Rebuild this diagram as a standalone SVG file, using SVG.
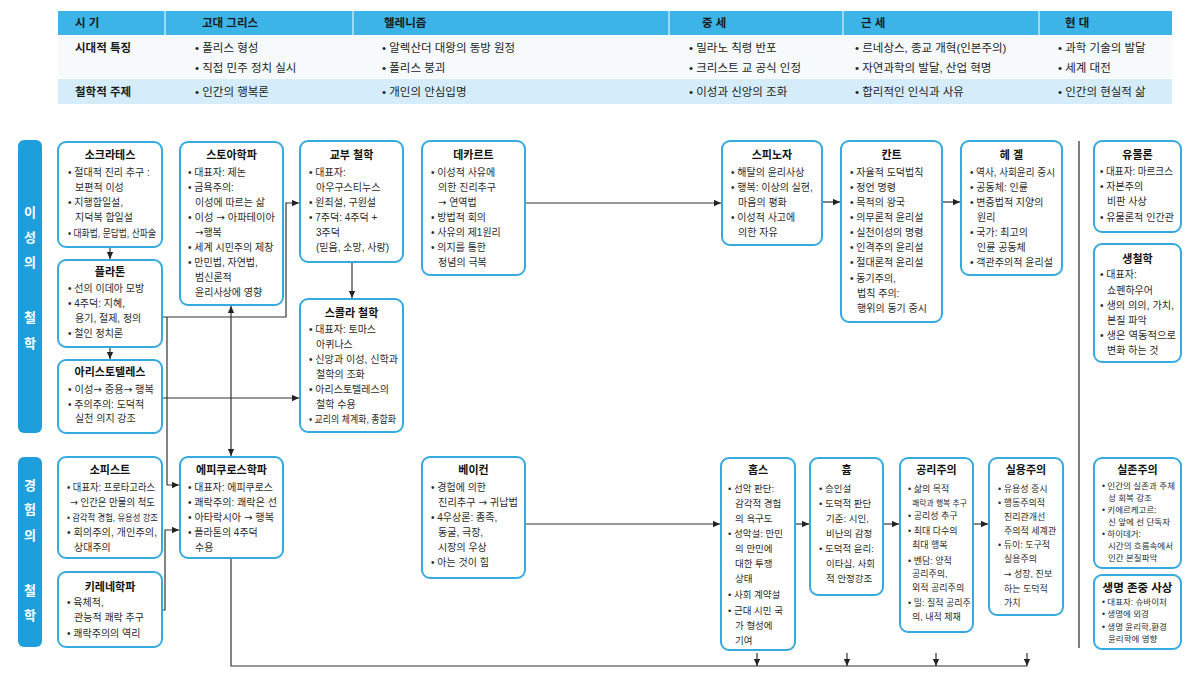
<svg xmlns="http://www.w3.org/2000/svg" width="1191" height="688" viewBox="0 0 1191 688">
<defs>
<marker id="ah" viewBox="0 0 10 10" refX="10" refY="5" markerWidth="8" markerHeight="7" markerUnits="userSpaceOnUse" orient="auto-start-reverse"><path d="M0,0.5 L10,5 L0,9.5 z" fill="#222"/></marker>
</defs>
<style>
text { font-family: "Liberation Sans", "Noto Sans CJK KR", sans-serif; fill:#2b2b2b; }
.ar { font-family: "DejaVu Sans", sans-serif; }
.nb { fill:#fff; stroke:#35aadf; stroke-width:2; }
.t { font-size:11px; font-weight:bold; text-anchor:middle; fill:#111; }
.b { font-size:10px; }
.s { font-size:9.5px; }
.s9 { font-size:9px; }
.xs { font-size:8.5px; }
.c { fill:none; stroke:#333; stroke-width:1.2; }
.th { font-size:11.5px; font-weight:bold; fill:#1a1a1a; }
.td { font-size:11.5px; fill:#222; }
.side { fill:#1e9fdc; }
.sl { font-size:13px; font-weight:bold; fill:#fff; text-anchor:middle; }
</style>
<rect width="1191" height="688" fill="#fff"/>

<g id="table">
<rect x="58" y="11" width="1114" height="24" fill="#3cb4e8"/>
<rect x="58" y="36" width="1114" height="42" fill="#f6fafd"/>
<rect x="58" y="79" width="1114" height="25" fill="#d5edfa"/>
<g stroke="#fff" stroke-width="1">
<line x1="165" y1="11" x2="165" y2="35"/><line x1="353" y1="11" x2="353" y2="35"/><line x1="669" y1="11" x2="669" y2="35"/><line x1="843" y1="11" x2="843" y2="35"/><line x1="1039" y1="11" x2="1039" y2="35"/>
</g>
<text class="th" x="75" y="27">시 기</text>
<text class="th" x="202" y="27">고대 그리스</text>
<text class="th" x="384" y="27">헬레니즘</text>
<text class="th" x="702" y="27">중 세</text>
<text class="th" x="861" y="27">근 세</text>
<text class="th" x="1065" y="27">현 대</text>
<text class="th" x="75" y="52">시대적 특징</text>
<text class="td" x="195" y="52">• 폴리스 형성</text>
<text class="td" x="195" y="72">• 직접 민주 정치 실시</text>
<text class="td" x="382" y="52">• 알렉산더 대왕의 동방 원정</text>
<text class="td" x="382" y="72">• 폴리스 붕괴</text>
<text class="td" x="689" y="52">• 밀라노 칙령 반포</text>
<text class="td" x="689" y="72">• 크리스트 교 공식 인정</text>
<text class="td" x="855" y="52">• 르네상스, 종교 개혁(인본주의)</text>
<text class="td" x="855" y="72">• 자연과학의 발달, 산업 혁명</text>
<text class="td" x="1058" y="52">• 과학 기술의 발달</text>
<text class="td" x="1058" y="72">• 세계 대전</text>
<text class="th" x="75" y="96">철학적 주제</text>
<text class="td" x="195" y="96">• 인간의 행복론</text>
<text class="td" x="382" y="96">• 개인의 안심입명</text>
<text class="td" x="689" y="96">• 이성과 신앙의 조화</text>
<text class="td" x="855" y="96">• 합리적인 인식과 사유</text>
<text class="td" x="1058" y="96">• 인간의 현실적 삶</text>
</g>

<g id="label-reason">
<rect class="side" x="18" y="140" width="24" height="293" rx="6"/>
<text class="sl" x="30" y="217">이</text>
<text class="sl" x="30" y="242">성</text>
<text class="sl" x="30" y="267">의</text>
<text class="sl" x="30" y="322">철</text>
<text class="sl" x="30" y="348">학</text>
</g>
<g id="label-experience">
<rect class="side" x="18" y="457" width="24" height="190" rx="6"/>
<text class="sl" x="30" y="490">경</text>
<text class="sl" x="30" y="514">험</text>
<text class="sl" x="30" y="540">의</text>
<text class="sl" x="30" y="595">철</text>
<text class="sl" x="30" y="620">학</text>
</g>

<g id="connectors">
<line class="c" x1="110" y1="247" x2="110" y2="259" marker-end="url(#ah)"/>
<line class="c" x1="110" y1="347" x2="110" y2="359" marker-end="url(#ah)"/>
<path class="c" d="M163,317 H286 V203 H299" marker-end="url(#ah)"/>
<path class="c" d="M167,317 V485 H179" marker-end="url(#ah)"/>
<line class="c" x1="162" y1="398" x2="299" y2="398" marker-end="url(#ah)"/>
<line class="c" x1="231" y1="306" x2="231" y2="456" marker-start="url(#ah)" marker-end="url(#ah)"/>
<path class="c" d="M162,610 H165 V530 H179" marker-end="url(#ah)"/>
<line class="c" x1="352" y1="262" x2="352" y2="298" marker-end="url(#ah)"/>
<line class="c" x1="525" y1="203" x2="721" y2="203" marker-end="url(#ah)"/>
<line class="c" x1="822" y1="202" x2="840" y2="202" marker-end="url(#ah)"/>
<line class="c" x1="942" y1="202" x2="960" y2="202" marker-end="url(#ah)"/>
<line class="c" x1="525" y1="524" x2="720" y2="524" marker-end="url(#ah)"/>
<line class="c" x1="795" y1="524" x2="809" y2="524" marker-end="url(#ah)"/>
<line class="c" x1="883" y1="524" x2="899" y2="524" marker-end="url(#ah)"/>
<line class="c" x1="973" y1="524" x2="988" y2="524" marker-end="url(#ah)"/>
<path class="c" d="M231,558 V666 H1027"/>
<line class="c" x1="757" y1="653" x2="757" y2="666" marker-end="url(#ah)"/>
<line class="c" x1="847" y1="653" x2="847" y2="666" marker-end="url(#ah)"/>
<line class="c" x1="936" y1="653" x2="936" y2="666" marker-end="url(#ah)"/>
<line class="c" x1="1027" y1="653" x2="1027" y2="666" marker-end="url(#ah)"/>
<line x1="1079" y1="141" x2="1079" y2="648" stroke="#555" stroke-width="1.5"/>
</g>

<g id="socrates">
<rect class="nb" x="58" y="142" width="104" height="105" rx="8"/>
<text class="t" x="110" y="159">소크라테스</text>
<text class="b" x="68" y="176">• 절대적 진리 추구 :</text>
<text class="b" x="75" y="191">보편적 이성</text>
<text class="b" x="68" y="206">• 지행합일설,</text>
<text class="b" x="75" y="221">지덕복 합일설</text>
<text class="b" x="68" y="237" textLength="88" lengthAdjust="spacingAndGlyphs">• 대화법, 문답법, 산파술</text>
</g>

<g id="plato">
<rect class="nb" x="58" y="260" width="104" height="87" rx="8"/>
<text class="t" x="110" y="276">플라톤</text>
<text class="b" x="68" y="292">• 선의 이데아 모방</text>
<text class="b" x="68" y="307">• 4주덕: 지혜,</text>
<text class="b" x="75" y="322">용기, 절제, 정의</text>
<text class="b" x="68" y="337">• 철인 정치론</text>
</g>

<g id="aristotle">
<rect class="nb" x="58" y="360" width="104" height="73" rx="8"/>
<text class="t" x="110" y="376">아리스토텔레스</text>
<text class="b" x="68" y="393" textLength="86" lengthAdjust="spacingAndGlyphs">• 이성<tspan class="ar">→</tspan> 중용<tspan class="ar">→</tspan> 행복</text>
<text class="b" x="68" y="408">• 주의주의: 도덕적</text>
<text class="b" x="75" y="422">실천 의지  강조</text>
</g>

<g id="stoic">
<rect class="nb" x="180" y="142" width="103" height="163" rx="8"/>
<text class="t" x="231.5" y="159">스토아학파</text>
<text class="b" x="188" y="176">• 대표자: 제논</text>
<text class="b" x="188" y="191">• 금욕주의:</text>
<text class="b" x="195" y="206">이성에 따르는 삶</text>
<text class="b" x="188" y="221" textLength="87" lengthAdjust="spacingAndGlyphs">• 이성 <tspan class="ar">→</tspan> 아파테이아</text>
<text class="b" x="195" y="236"><tspan class="ar">→</tspan>행복</text>
<text class="b" x="188" y="251">• 세계 시민주의 제창</text>
<text class="b" x="188" y="266">• 만민법, 자연법,</text>
<text class="b" x="195" y="281">범신론적</text>
<text class="b" x="195" y="296">윤리사상에  영향</text>
</g>

<g id="patristic">
<rect class="nb" x="300" y="141" width="103" height="121" rx="8"/>
<text class="t" x="351.5" y="159">교부 철학</text>
<text class="b" x="309" y="176">• 대표자:</text>
<text class="b" x="316" y="191">아우구스티누스</text>
<text class="b" x="309" y="206">• 원죄설, 구원설</text>
<text class="b" x="309" y="221">• 7주덕: 4주덕 +</text>
<text class="b" x="316" y="236">3주덕</text>
<text class="b" x="316" y="251">(믿음, 소망, 사랑)</text>
</g>

<g id="scholastic">
<rect class="nb" x="300" y="299" width="103" height="133" rx="8"/>
<text class="t" x="351.5" y="317">스콜라 철학</text>
<text class="b" x="309" y="333">• 대표자: 토마스</text>
<text class="b" x="316" y="348">아퀴나스</text>
<text class="b" x="309" y="363" textLength="89" lengthAdjust="spacingAndGlyphs">• 신앙과 이성, 신학과</text>
<text class="b" x="316" y="378">철학의 조화</text>
<text class="b" x="309" y="393">• 아리스토텔레스의</text>
<text class="b" x="316" y="408">철학 수용</text>
<text class="b" x="309" y="423" textLength="87" lengthAdjust="spacingAndGlyphs">• 교리의 체계화, 종합화</text>
</g>

<g id="descartes">
<rect class="nb" x="422" y="141" width="103" height="134" rx="8"/>
<text class="t" x="473.5" y="159">데카르트</text>
<text class="b" x="431" y="176">• 이성적 사유에</text>
<text class="b" x="438" y="191">의한 진리추구</text>
<text class="b" x="438" y="206"><tspan class="ar">→</tspan> 연역법</text>
<text class="b" x="431" y="221">• 방법적 회의</text>
<text class="b" x="431" y="236">• 사유의 제1원리</text>
<text class="b" x="431" y="251">• 의지를 통한</text>
<text class="b" x="438" y="266">정념의 극복</text>
</g>

<g id="spinoza">
<rect class="nb" x="722" y="141" width="100" height="104" rx="8"/>
<text class="t" x="772" y="159">스피노자</text>
<text class="b" x="731" y="176">• 해탈의 윤리사상</text>
<text class="b" x="731" y="191">• 행복: 이상의 실현,</text>
<text class="b" x="738" y="206">마음의 평화</text>
<text class="b" x="731" y="221">• 이성적 사고에</text>
<text class="b" x="738" y="236">의한 자유</text>
</g>

<g id="kant">
<rect class="nb" x="841" y="141" width="101" height="181" rx="8"/>
<text class="t" x="891.5" y="159">칸트</text>
<text class="b" x="850" y="176">• 자율적 도덕법칙</text>
<text class="b" x="850" y="191">• 정언 명령</text>
<text class="b" x="850" y="206">• 목적의 왕국</text>
<text class="b" x="850" y="221">• 의무론적 윤리설</text>
<text class="b" x="850" y="236">• 실천이성의 명령</text>
<text class="b" x="850" y="251">• 인격주의 윤리설</text>
<text class="b" x="850" y="266">• 절대론적 윤리설</text>
<text class="b" x="850" y="282">• 동기주의,</text>
<text class="b" x="857" y="297">법칙 주의:</text>
<text class="b" x="857" y="312">행위의 동기 중시</text>
</g>

<g id="hegel">
<rect class="nb" x="961" y="141" width="101" height="134" rx="8"/>
<text class="t" x="1011.5" y="159">헤 겔</text>
<text class="b" x="970" y="176" textLength="85" lengthAdjust="spacingAndGlyphs">• 역사, 사회윤리 중시</text>
<text class="b" x="970" y="191">• 공동체: 인륜</text>
<text class="b" x="970" y="206">• 변증법적 지양의</text>
<text class="b" x="977" y="221">원리</text>
<text class="b" x="970" y="236">• 국가: 최고의</text>
<text class="b" x="977" y="251">인륜 공동체</text>
<text class="b" x="970" y="266" textLength="83" lengthAdjust="spacingAndGlyphs">• 객관주의적 윤리설</text>
</g>

<g id="materialism">
<rect class="nb" x="1094" y="141" width="87" height="91" rx="8"/>
<text class="t" x="1137.5" y="159">유물론</text>
<text class="b" x="1100" y="175" textLength="73" lengthAdjust="spacingAndGlyphs">• 대표자: 마르크스</text>
<text class="b" x="1100" y="190">• 자본주의</text>
<text class="b" x="1107" y="205">비판 사상</text>
<text class="b" x="1100" y="221" textLength="74" lengthAdjust="spacingAndGlyphs">• 유물론적 인간관</text>
</g>

<g id="lifephilosophy">
<rect class="nb" x="1094" y="244" width="87" height="118" rx="8"/>
<text class="t" x="1137.5" y="263">생철학</text>
<text class="b" x="1100" y="278">• 대표자:</text>
<text class="b" x="1107" y="294">쇼펜하우어</text>
<text class="b" x="1100" y="309" textLength="74" lengthAdjust="spacingAndGlyphs">• 생의 의의, 가치,</text>
<text class="b" x="1107" y="324">본질 파악</text>
<text class="b" x="1100" y="339" textLength="76" lengthAdjust="spacingAndGlyphs">• 생은 역동적으로</text>
<text class="b" x="1107" y="354">변화 하는 것</text>
</g>

<g id="sophist">
<rect class="nb" x="58" y="457" width="104" height="101" rx="8"/>
<text class="t" x="110" y="474">소피스트</text>
<text class="b" x="67" y="491" textLength="88" lengthAdjust="spacingAndGlyphs">• 대표자: 프로타고라스</text>
<text class="b" x="70" y="506" textLength="85" lengthAdjust="spacingAndGlyphs"><tspan class="ar">→</tspan> 인간은 만물의 척도</text>
<text class="s" x="67" y="521" textLength="91" lengthAdjust="spacingAndGlyphs">• 감각적 경험, 유용성 강조</text>
<text class="b" x="67" y="536" textLength="90" lengthAdjust="spacingAndGlyphs">• 회의주의, 개인주의,</text>
<text class="b" x="74" y="551">상대주의</text>
</g>

<g id="cyrenaic">
<rect class="nb" x="58" y="572" width="104" height="75" rx="8"/>
<text class="t" x="110" y="591">키레네학파</text>
<text class="b" x="67" y="606">• 육체적,</text>
<text class="b" x="74" y="621">관능적 쾌락 추구</text>
<text class="b" x="67" y="637">• 쾌락주의의 역리</text>
</g>

<g id="epicurean">
<rect class="nb" x="180" y="457" width="103" height="101" rx="8"/>
<text class="t" x="231.5" y="474">에피쿠로스학파</text>
<text class="b" x="188" y="491" textLength="85" lengthAdjust="spacingAndGlyphs">• 대표자: 에피쿠로스</text>
<text class="b" x="188" y="506" textLength="89" lengthAdjust="spacingAndGlyphs">• 쾌락주의: 쾌락은 선</text>
<text class="b" x="188" y="521" textLength="86" lengthAdjust="spacingAndGlyphs">• 아타락시아 <tspan class="ar">→</tspan> 행복</text>
<text class="b" x="188" y="536">• 플라톤의 4주덕</text>
<text class="b" x="195" y="551">수용</text>
</g>

<g id="bacon">
<rect class="nb" x="422" y="457" width="103" height="121" rx="8"/>
<text class="t" x="473.5" y="474">베이컨</text>
<text class="b" x="431" y="491">• 경험에 의한</text>
<text class="b" x="438" y="506" textLength="80" lengthAdjust="spacingAndGlyphs">진리추구 <tspan class="ar">→</tspan> 귀납법</text>
<text class="b" x="431" y="521">• 4우상론: 종족,</text>
<text class="b" x="438" y="536">동굴, 극장,</text>
<text class="b" x="438" y="551">시장의 우상</text>
<text class="b" x="431" y="566">• 아는 것이 힘</text>
</g>

<g id="hobbes">
<rect class="nb" x="721" y="458" width="74" height="192" rx="8"/>
<text class="t" x="758" y="474">홉스</text>
<text class="s" x="728" y="492">• 선악 판단:</text>
<text class="s" x="735" y="507">감각적 경험</text>
<text class="s" x="735" y="522">의 욕구도</text>
<text class="s" x="728" y="537">• 성악설: 만민</text>
<text class="s" x="735" y="552">의 만민에</text>
<text class="s" x="735" y="567">대한 투쟁</text>
<text class="s" x="735" y="582">상태</text>
<text class="s" x="728" y="598">• 사회 계약설</text>
<text class="s" x="728" y="614">• 근대 시민 국</text>
<text class="s" x="735" y="629">가 형성에</text>
<text class="s" x="735" y="644">기여</text>
</g>

<g id="hume">
<rect class="nb" x="810" y="458" width="73" height="137" rx="8"/>
<text class="t" x="846.5" y="474">흄</text>
<text class="s" x="819" y="492">• 승인설</text>
<text class="s" x="819" y="507">• 도덕적 판단</text>
<text class="s" x="826" y="522">기준: 시인,</text>
<text class="s" x="826" y="537">비난의 감정</text>
<text class="s" x="819" y="552">• 도덕적 윤리:</text>
<text class="s" x="826" y="567">이타심, 사회</text>
<text class="s" x="826" y="582">적 안정강조</text>
</g>

<g id="utilitarianism">
<rect class="nb" x="900" y="458" width="73" height="174" rx="8"/>
<text class="t" x="936.5" y="474">공리주의</text>
<text class="s9" x="908" y="492">• 삶의 목적</text>
<text x="912" y="506" font-size="8" textLength="55" lengthAdjust="spacingAndGlyphs">쾌락과 행복 추구</text>
<text class="s9" x="908" y="519">• 공리성 추구</text>
<text class="s9" x="908" y="534">• 최대 다수의</text>
<text class="s9" x="912" y="548">최대 행복</text>
<text class="s9" x="908" y="564">• 벤담: 양적</text>
<text class="s9" x="912" y="577">공리주의,</text>
<text class="s9" x="912" y="591">외적 공리주의</text>
<text class="s9" x="908" y="606">• 밀: 질적 공리주</text>
<text class="s9" x="912" y="620">의, 내적 제재</text>
</g>

<g id="pragmatism">
<rect class="nb" x="989" y="458" width="74" height="157" rx="8"/>
<text class="t" x="1026" y="474">실용주의</text>
<text class="s9" x="998" y="492">• 유용성 중시</text>
<text class="s9" x="998" y="506">• 행동주의적</text>
<text class="s9" x="1004" y="520">진리관개선</text>
<text class="s9" x="1004" y="534">주의적 세계관</text>
<text class="s9" x="998" y="548">• 듀이: 도구적</text>
<text class="s9" x="1004" y="562">실용주의</text>
<text class="s9" x="1004" y="577"><tspan class="ar">→</tspan> 성장, 진보</text>
<text class="s9" x="1004" y="592">하는 도덕적</text>
<text class="s9" x="1004" y="606">가치</text>
</g>

<g id="existentialism">
<rect class="nb" x="1094" y="458" width="87" height="110" rx="8"/>
<text class="t" x="1137.5" y="474">실존주의</text>
<text class="xs" x="1102" y="489" textLength="73" lengthAdjust="spacingAndGlyphs">• 인간의 실존과 주체</text>
<text class="xs" x="1108" y="501">성  회복 강조</text>
<text class="xs" x="1102" y="513">• 키에르케고르:</text>
<text class="xs" x="1108" y="525" textLength="62" lengthAdjust="spacingAndGlyphs">신 앞에 선 단독자</text>
<text class="xs" x="1102" y="537">• 하이데거:</text>
<text class="xs" x="1108" y="549" textLength="65" lengthAdjust="spacingAndGlyphs">시간의 흐름속에서</text>
<text class="xs" x="1108" y="561">인간 본질파악</text>
</g>

<g id="bioethics">
<rect class="nb" x="1094" y="575" width="87" height="74" rx="8"/>
<text class="t" x="1137.5" y="592" style="font-size:11.5px">생명 존중 사상</text>
<text class="xs" x="1102" y="605">• 대표자: 슈바이처</text>
<text class="xs" x="1102" y="617">• 생명에 외경</text>
<text class="xs" x="1102" y="630">• 생명 윤리학,환경</text>
<text class="xs" x="1108" y="642">윤리학에 영향</text>
</g>
</svg>
